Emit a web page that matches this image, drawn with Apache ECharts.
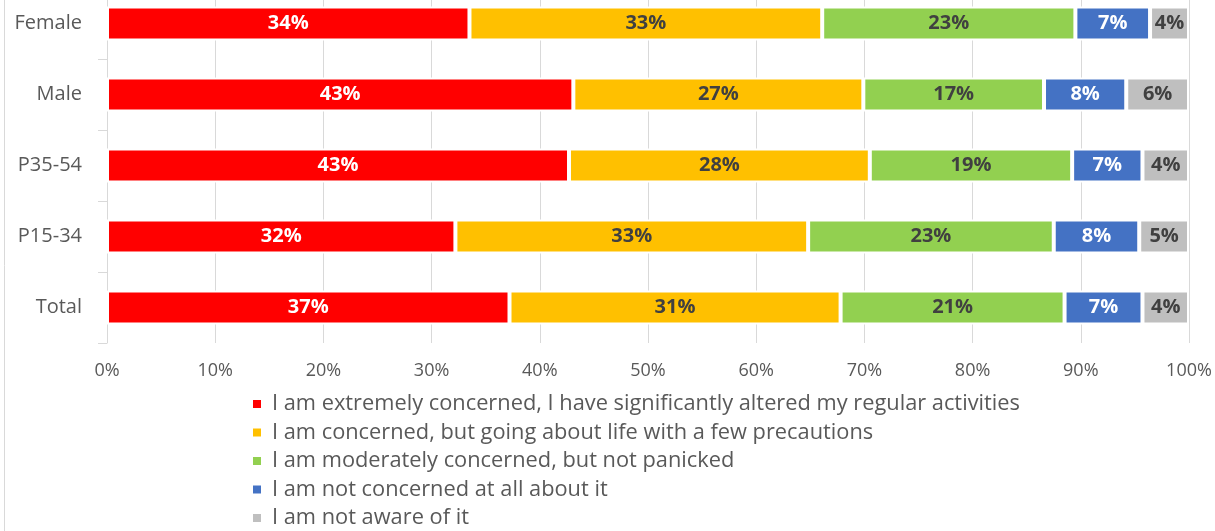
<!DOCTYPE html>
<html><head><meta charset="utf-8">
<script src="https://cdn.jsdelivr.net/npm/echarts@6/dist/echarts.min.js"></script>
<style>html,body{margin:0;padding:0;background:#fff}#c{width:1215px;height:531px}</style>
</head><body><div id="c"></div>
<script>
const categories = ["Female", "Male", "P35-54", "P15-34", "Total"];
const seriesNames = [
  "I am extremely concerned, I have significantly altered my regular activities",
  "I am concerned, but going about life with a few precautions",
  "I am moderately concerned, but not panicked",
  "I am not concerned at all about it",
  "I am not aware of it"
];
const extremely = [33.5, 43.1, 42.7, 32.2, 37.2];
const concerned = [32.6, 26.8, 27.8, 32.6, 30.6];
const moderately = [23.4, 16.7, 18.7, 22.7, 20.7];
const notConcerned = [6.9, 7.6, 6.5, 7.9, 7.2];
const notAware = [3.6, 5.8, 4.3, 4.6, 4.3];
const xTicks = [0, 10, 20, 30, 40, 50, 60, 70, 80, 90, 100];

const values = [extremely, concerned, moderately, notConcerned, notAware];
const colors = ["#ff0000", "#ffc000", "#92d050", "#4472c4", "#bfbfbf"];
const labelColors = ["#ffffff", "#404040", "#404040", "#ffffff", "#404040"];
const FONT = "'Open Sans', sans-serif";

const chart = echarts.init(document.getElementById('c'), null, {renderer: 'canvas'});
chart.setOption({
  animation: false,
  textStyle: {fontFamily: FONT},
  grid: {left: 107, right: 26, top: -12, bottom: 188, containLabel: false, outerBoundsMode: 'none'},
  xAxis: {
    type: 'value', min: xTicks[0], max: xTicks[xTicks.length - 1], interval: 10,
    axisLine: {show: false}, axisTick: {show: false},
    splitLine: {lineStyle: {color: '#d9d9d9', width: 1}},
    axisLabel: {formatter: v => v + '%', color: '#595959', fontSize: 18, margin: 19, fontFamily: FONT}
  },
  yAxis: {
    type: 'category', data: categories, inverse: true,
    axisLine: {lineStyle: {color: '#d9d9d9'}},
    axisTick: {show: true, length: 9, lineStyle: {color: '#d9d9d9'}},
    axisLabel: {color: '#595959', fontSize: 20, margin: 25, fontFamily: FONT}
  },
  legend: seriesNames.map((name, i) => ({
    orient: 'vertical', left: 251, top: 393 + i * 28.5, padding: 0,
    itemWidth: 10, itemHeight: 10,
    icon: 'rect',
    textStyle: {color: '#595959', fontSize: 21.8, fontFamily: FONT, padding: [0, 0, 0, 5]},
    data: [name]
  })),
  graphic: [{type: 'line', shape: {x1: 4.5, y1: 0, x2: 4.5, y2: 531}, style: {stroke: '#d9d9d9', lineWidth: 1}}],
  series: seriesNames.map((name, i) => ({
    name, type: 'bar', stack: 'total', data: values[i], barWidth: '48%',
    itemStyle: {color: colors[i], borderColor: '#ffffff', borderWidth: 2},
    label: {
      show: true, position: 'inside', formatter: p => Math.round(p.value) + '%',
      color: labelColors[i], fontWeight: 'bold', fontSize: 20, fontFamily: FONT
    }
  }))
});
</script></body></html>
